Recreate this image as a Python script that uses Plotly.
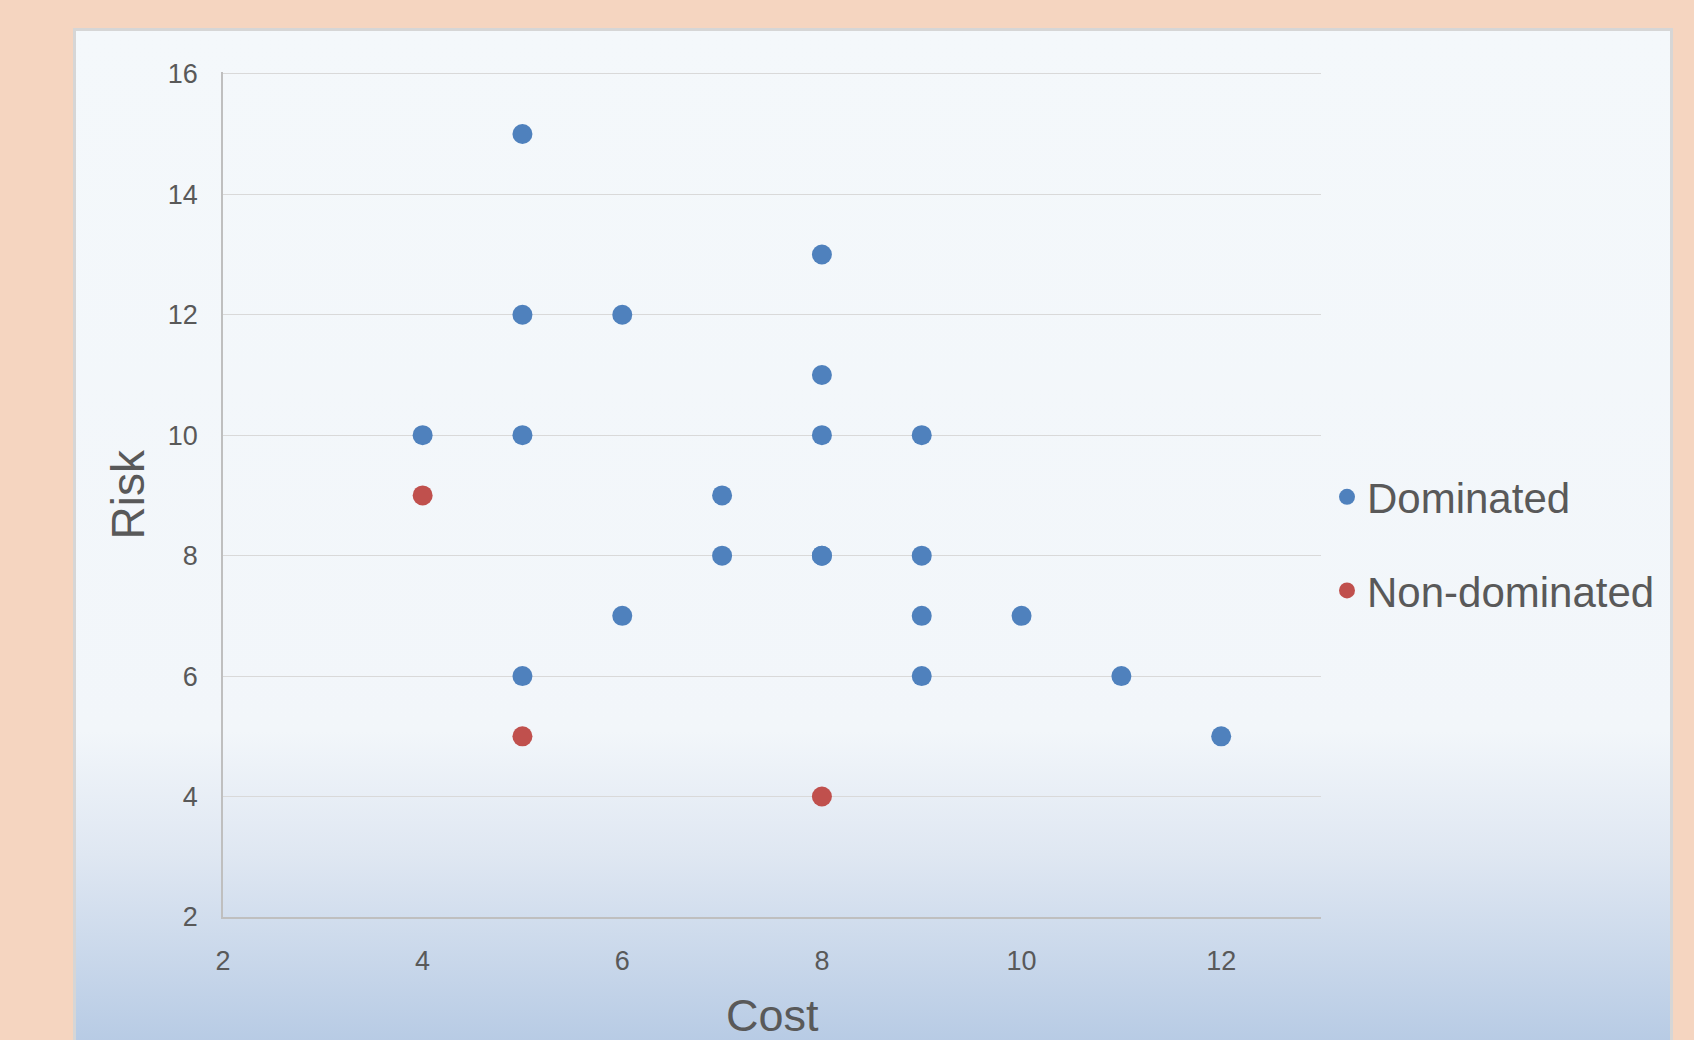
import base64
import plotly.graph_objects as go

# ---- data ----
dominated_cost = [5, 8, 5, 6, 8, 4, 5, 8, 9, 7, 7, 8, 8, 9, 6, 9, 10, 5, 9, 11, 12]
dominated_risk = [15, 13, 12, 12, 11, 10, 10, 10, 10, 9, 8, 8, 8, 8, 7, 7, 7, 6, 6, 6, 5]
nondom_cost = [4, 5, 8]
nondom_risk = [9, 5, 4]
x_ticks = [2, 4, 6, 8, 10, 12]
y_ticks = [2, 4, 6, 8, 10, 12, 14, 16]

W, H = 1694, 1040
L, R, T, B = 223, 1321, 72, 917
pw, ph = R - L, B - T

FONT = "Liberation Sans, Arial, sans-serif"
TXT = "#595959"

# panel background (gradient) as an inline SVG image
px0, py0, px1, py1 = 73, 28, 1673, 1040
sw, sh = px1 - px0, py1 - py0
svg = f'''<svg xmlns="http://www.w3.org/2000/svg" width="{sw}" height="{sh}" viewBox="0 0 {sw} {sh}" preserveAspectRatio="none">
<defs><linearGradient id="g" x1="0" y1="0" x2="0" y2="1">
<stop offset="0" stop-color="#F4F8FB"/>
<stop offset="0.68" stop-color="#F2F6FA"/>
<stop offset="0.80" stop-color="#DFE7F2"/>
<stop offset="1" stop-color="#B3C8E3"/>
</linearGradient></defs>
<rect x="1.5" y="1.5" width="{sw-3}" height="{sh+20}" fill="url(#g)" stroke="#D6D6D6" stroke-width="3"/>
</svg>'''
src = "data:image/svg+xml;base64," + base64.b64encode(svg.encode()).decode()

fig = go.Figure()
fig.add_trace(go.Scatter(
    x=dominated_cost, y=dominated_risk, mode="markers", name="Dominated",
    legendgroup="a",
    marker=dict(color="#4F81BD", size=20, line=dict(width=0)),
))
fig.add_trace(go.Scatter(
    x=nondom_cost, y=nondom_risk, mode="markers", name="Non-dominated",
    legendgroup="b",
    marker=dict(color="#C0504D", size=20, line=dict(width=0)),
))

fig.update_layout(
    width=W, height=H,
    margin=dict(l=L, r=W - R, t=T, b=H - B, pad=0),
    paper_bgcolor="#F5D5C0",
    plot_bgcolor="rgba(0,0,0,0)",
    font=dict(family=FONT, color=TXT),
    showlegend=True,
    legend=dict(
        x=(1327 - L) / pw, xanchor="left",
        y=(B - 463) / ph, yanchor="top",
        bgcolor="rgba(0,0,0,0)",
        font=dict(size=42, color=TXT, family=FONT),
        traceorder="grouped", tracegroupgap=36,
        itemsizing="trace",
    ),
    images=[dict(
        source=src, xref="paper", yref="paper",
        x=(px0 - L) / pw, y=(B - py0) / ph,
        sizex=sw / pw, sizey=sh / ph,
        xanchor="left", yanchor="top",
        sizing="stretch", layer="below",
    )],
    xaxis=dict(
        range=[2, 13], tickvals=x_ticks, showgrid=False, zeroline=False,
        showline=True, linecolor="#BFBFBF", linewidth=1.5,
        ticks="", ticklabelstandoff=19,
        tickfont=dict(size=27, color=TXT, family=FONT),
    ),
    yaxis=dict(
        range=[2, 16.03], tickvals=y_ticks, showgrid=True, gridcolor="#D9D9D9",
        gridwidth=1.3, zeroline=False,
        showline=True, linecolor="#BFBFBF", linewidth=1.5,
        ticks="", ticklabelstandoff=18,
        tickfont=dict(size=27, color=TXT, family=FONT),
    ),
    annotations=[
        dict(text="Cost", xref="paper", yref="paper", x=0.5, y=0,
             xanchor="center", yanchor="middle", yshift=-(1015 - B),
             showarrow=False, font=dict(size=45, color=TXT, family=FONT)),
        dict(text="Risk", xref="paper", yref="paper", x=0, y=0.5,
             xanchor="center", yanchor="middle", xshift=127 - L,
             textangle=-90, showarrow=False,
             font=dict(size=46, color=TXT, family=FONT)),
    ],
)

fig.write_html(
    "out.html",
    config={"displayModeBar": False},
    post_script="document.body.style.margin='0';document.body.style.overflow='hidden';",
)
